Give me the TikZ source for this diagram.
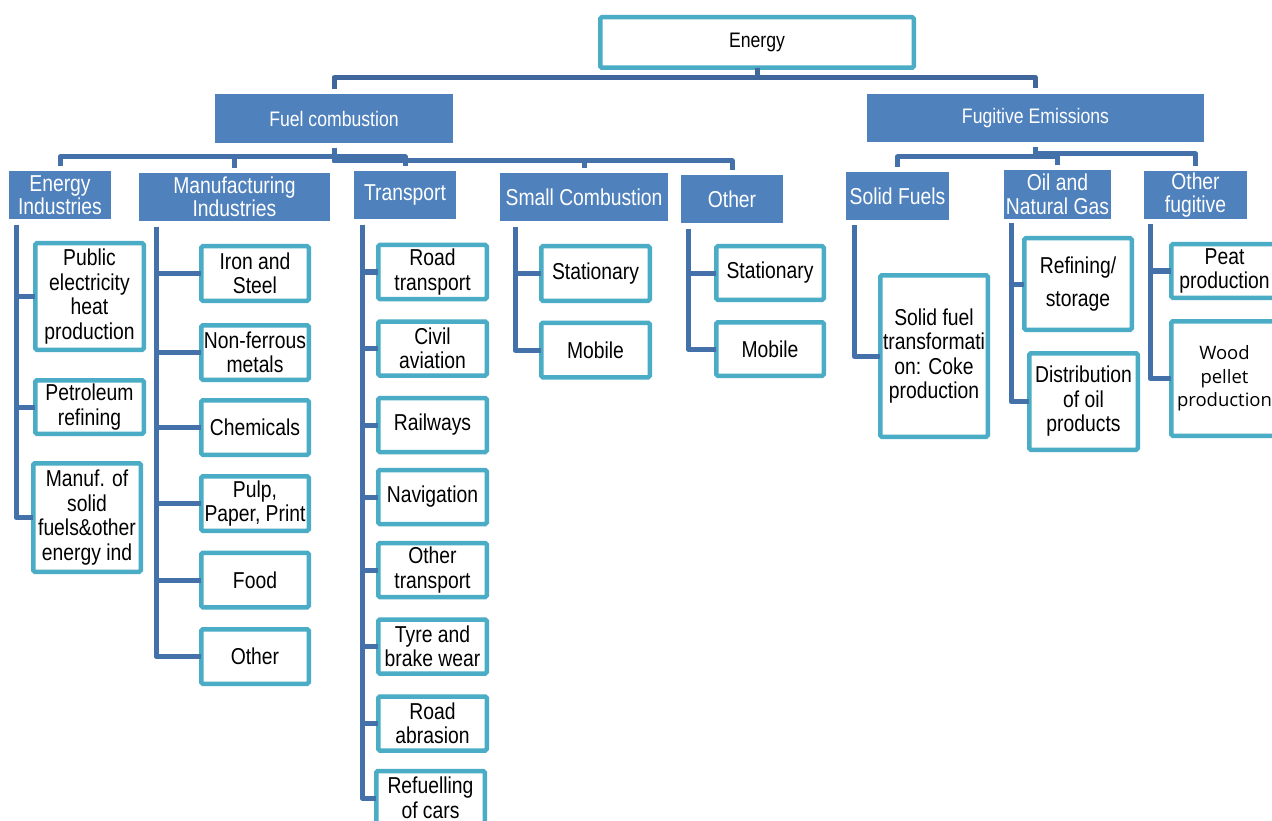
\documentclass[tikz,border=0pt]{standalone}
\usepackage{fontspec}
\setmainfont[FakeStretch=0.84]{Liberation Sans}
\newfontfamily\woodfont{Open Sans}
\definecolor{blueC}{HTML}{4F81BD}
\definecolor{tealC}{HTML}{4BACC6}
\definecolor{connC}{HTML}{4571AA}
\definecolor{connT}{HTML}{3F679C}
\tikzset{
  conn/.style={draw=connC, line width=5pt, line join=round},
  connt/.style={draw=connT, line width=5pt, line join=round},
  obox/.style={draw=tealC, line width=4.5pt, fill=white, inner sep=0pt, outer sep=0pt,
    align=center, rounded corners=1.5pt, font=\fontsize{23}{24.5}\selectfont},
  fbox/.style={fill=blueC, text=white, inner sep=0pt, outer sep=0pt, align=center,
    font=\fontsize{23}{23.5}\selectfont},
  tbox/.style={fill=blueC, text=white, inner sep=0pt, outer sep=0pt, align=center,
    font=\fontsize{21}{23}\selectfont}
}
\begin{document}
\begin{tikzpicture}[x=1pt,y=-1pt]
\useasboundingbox (0,0) rectangle (1272,821);
\clip (0,0) rectangle (1272,821);
\fill[white] (0,0) rectangle (1272,821);

% top level
\node[obox, font=\fontsize{21}{22}\selectfont, minimum width=313.5, minimum height=50.5] (energy) at (757,42.5) {Energy};
\node[tbox, minimum width=238, minimum height=49] (fuel) at (334,118.5) {Fuel combustion};
\node[tbox, minimum width=337, minimum height=48] (fug) at (1035.5,118) {Fugitive Emissions};

% level 2
\node[fbox, minimum width=102, minimum height=48] (ei) at (60,195) {Energy\\Industries};
\node[fbox, minimum width=191, minimum height=48] (mi) at (234.5,197) {Manufacturing\\Industries};
\node[fbox, minimum width=102, minimum height=48] (tr) at (405,195) {Transport};
\node[fbox, minimum width=168, minimum height=48] (sc) at (584,197) {Small Combustion};
\node[fbox, minimum width=102, minimum height=48] (ot) at (732,199) {Other};
\node[fbox, minimum width=103, minimum height=48] (sf) at (897.5,196) {Solid Fuels};
\node[fbox, minimum width=107, minimum height=49] (og) at (1057.5,194.5) {Oil and\\Natural Gas};
\node[fbox, minimum width=103, minimum height=48] (of) at (1195.5,195) {Other\\fugitive};

% level 3 boxes
\node[obox, minimum width=108.5, minimum height=106.5] (pub) at (89.5,296.5) {Public\\electricity\\heat\\production};
\node[obox, minimum width=108.5, minimum height=53.5] (pet) at (89.5,407) {Petroleum\\refining};
\node[obox, minimum width=107.5, minimum height=108.5] (man) at (87,517.5) {Manuf. of\\solid\\fuels\&other\\energy ind};

\node[obox, minimum width=107.5, minimum height=54.5] (iron) at (255,273.5) {Iron and\\Steel};
\node[obox, minimum width=107.5, minimum height=54.5] (nonf) at (255,352.5) {Non-ferrous\\metals};
\node[obox, minimum width=107.5, minimum height=54.5] (chem) at (255,427.5) {Chemicals};
\node[obox, minimum width=107.5, minimum height=54.5] (pulp) at (255,503.5) {Pulp,\\Paper, Print};
\node[obox, minimum width=107.5, minimum height=54.5] (food) at (255,580) {Food};
\node[obox, minimum width=107.5, minimum height=54.5] (moth) at (255,656.5) {Other};

\node[obox, minimum width=108.5, minimum height=54] (road) at (432.5,272) {Road\\transport};
\node[obox, minimum width=108.5, minimum height=54] (civ) at (432.5,348.5) {Civil\\aviation};
\node[obox, minimum width=108.5, minimum height=54] (rail) at (432.5,425) {Railways};
\node[obox, minimum width=108.5, minimum height=54] (nav) at (432.5,497) {Navigation};
\node[obox, minimum width=108.5, minimum height=54] (otr) at (432.5,570) {Other\\transport};
\node[obox, minimum width=108.5, minimum height=54] (tyre) at (432.5,646.5) {Tyre and\\brake wear};
\node[obox, minimum width=108.5, minimum height=54] (abr) at (432.5,723.5) {Road\\abrasion};
\node[obox, minimum width=108.5, minimum height=54] (refu) at (430.5,798) {Refuelling\\of cars};

\node[obox, minimum width=108.5, minimum height=54.5] (st1) at (595.5,273.5) {Stationary};
\node[obox, minimum width=108.5, minimum height=54.5] (mo1) at (595.5,350) {Mobile};
\node[obox, minimum width=107.5, minimum height=53.5] (st2) at (770,273) {Stationary};
\node[obox, minimum width=107.5, minimum height=53.5] (mo2) at (770,349) {Mobile};

\node[obox, minimum width=107.5, minimum height=161.5] (sft) at (934,356) {Solid fuel\\transformati\\on: Coke\\production};
\node[obox, minimum width=107.5, minimum height=91.5] (refi) at (1078,284) {Refining/\\[8pt]storage};
\node[obox, minimum width=108.5, minimum height=96.5] (dist) at (1083.5,401.5) {Distribution\\of oil\\products};
\node[obox, minimum width=106.5, minimum height=53.5] (peat) at (1224.5,271) {Peat\\production};
\node[obox, font=\woodfont\fontsize{18.5}{23.5}\selectfont, minimum width=106.5, minimum height=114.5] (wood) at (1224.5,378.5) {Wood\\pellet\\production};

% connectors top
\draw[connt] (energy.south) -- ++(0,10) -| ([yshift=5pt]fuel.north);
\draw[connt] (energy.south) -- ++(0,10) -| ([yshift=6pt]fug.north);

\draw[conn] ([yshift=-5pt]fuel.south) -- ++(0,9) -| ([yshift=5pt]ei.north);
\draw[conn] ([yshift=-5pt]fuel.south) -- ++(0,9) -| ([yshift=5pt]mi.north);
\draw[conn] ([yshift=-5pt]fuel.south) -- ++(0,9) -| ([yshift=5pt]tr.north);
\draw[conn] ([yshift=-5pt]fuel.south) -- ++(0,13) -| ([yshift=5pt]sc.north);
\draw[conn] ([yshift=-5pt]fuel.south) -- ++(0,13) -| ([yshift=5pt]ot.north);

\draw[conn] ([yshift=-5pt]fug.south) -- ++(0,10) -| ([yshift=5pt]sf.north);
\draw[conn] ([yshift=-5pt]fug.south) -- ++(0,10) -| ([yshift=5pt]og.north);
\draw[conn] ([yshift=-5pt]fug.south) -- ++(0,7) -| ([yshift=5pt]of.north);

% trunks
\foreach \c in {pub,pet,man}{\draw[conn] ([xshift=7pt,yshift=-6pt]ei.south west) |- (\c.west);}
\foreach \c in {iron,nonf,chem,pulp,food,moth}{\draw[conn] ([xshift=17pt,yshift=-6pt]mi.south west) |- (\c.west);}
\foreach \c in {road,civ,rail,nav,otr,tyre,abr,refu}{\draw[conn] ([xshift=8pt,yshift=-6pt]tr.south west) |- (\c.west);}
\foreach \c in {st1,mo1}{\draw[conn] ([xshift=15pt,yshift=-6pt]sc.south west) |- (\c.west);}
\foreach \c in {st2,mo2}{\draw[conn] ([xshift=7pt,yshift=-6pt]ot.south west) |- (\c.west);}
\draw[conn] ([xshift=8pt,yshift=-5pt]sf.south west) |- (sft.west);
\foreach \c in {refi,dist}{\draw[conn] ([xshift=7pt,yshift=-4pt]og.south west) |- (\c.west);}
\foreach \c in {peat,wood}{\draw[conn] ([xshift=6pt,yshift=-5pt]of.south west) |- (\c.west);}
\end{tikzpicture}
\end{document}
